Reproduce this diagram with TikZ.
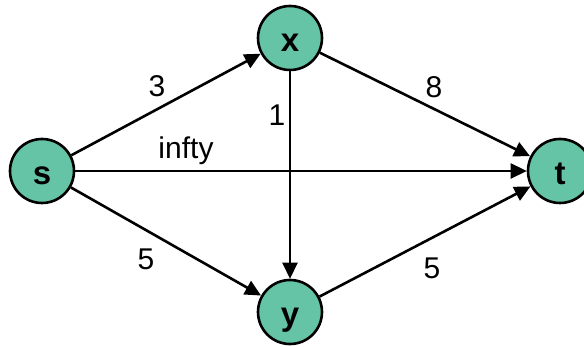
\documentclass[tikz,border=0pt]{standalone}
\usepackage{fontspec}
\setmainfont{Liberation Sans}
\usetikzlibrary{arrows.meta}
\definecolor{nodegreen}{RGB}{102,196,166}

\begin{document}
\begin{tikzpicture}[x=1pt,y=-1pt,
        vertex/.style={circle,draw,line width=2.6pt,fill=nodegreen,minimum size=64pt,inner sep=0pt,
            text height=28pt,text depth=0pt,font=\fontsize{33}{35}\selectfont\bfseries},
        edge/.style={line width=2.6pt,-{Triangle[length=16pt,width=15pt]}},
        weight/.style={font=\fontsize{30}{32}\selectfont}]
        \useasboundingbox (0,0) rectangle (584,347);
        \node[vertex] (s) at (42,171) {s};
        \node[vertex] (x) at (290,38) {x};
        \node[vertex] (y) at (290,312) {y};
        \node[vertex] (t) at (560,171) {t};
        \draw[edge] (s) -- (x);
        \draw[edge] (s) -- (t);
        \draw[edge] (s) -- (y);
        \draw[edge] (x) -- (y);
        \draw[edge] (x) -- (t);
        \draw[edge] (y) -- (t);
        \node[weight] (w1) at (157,86) {3};
        \node[weight] (w2) at (434,87) {8};
        \node[weight] (w3) at (277,115) {1};
        \node[weight] (w4) at (186,151) {infty};
        \node[weight] (w5) at (146,259) {5};
        \node[weight] (w6) at (432,268) {5};
    \end{tikzpicture}
\end{document}
